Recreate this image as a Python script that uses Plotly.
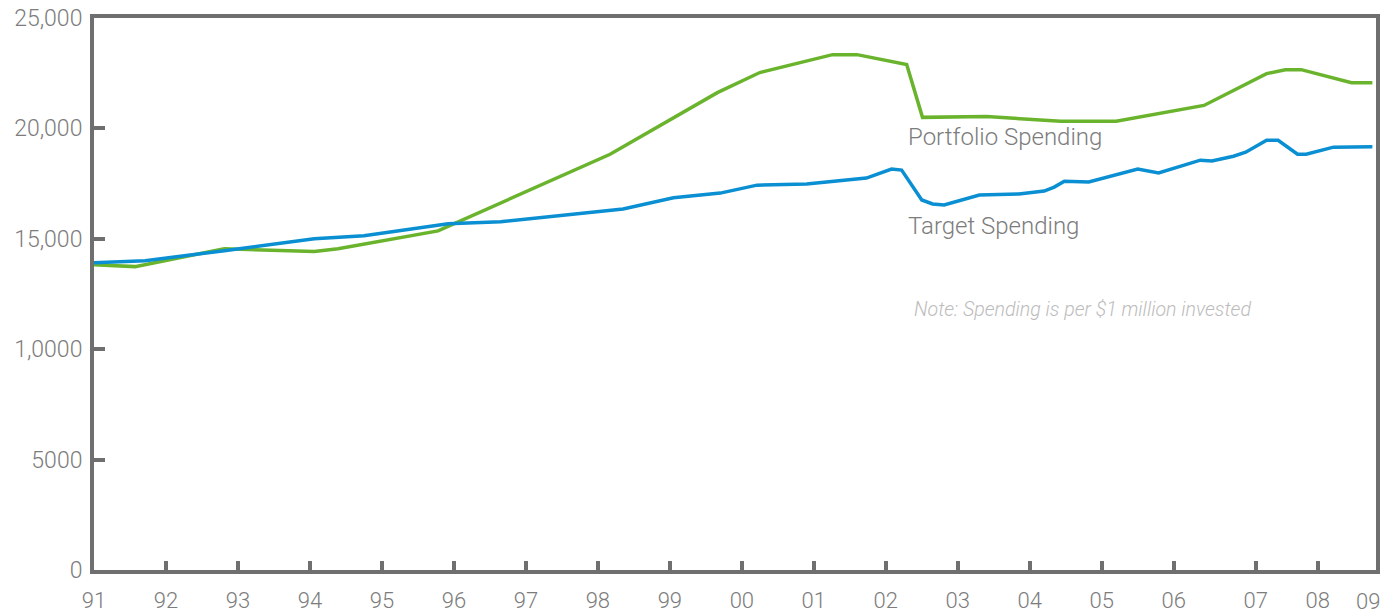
import plotly.graph_objects as go

# ---- data (decimal years, dollars per $1M invested) ----
target_x = [1991.00, 1991.71, 1992.81, 1994.06, 1994.75, 1995.92, 1996.65, 1997.62,
            1998.35, 1999.05, 1999.70, 2000.21, 2000.90, 2001.73, 2002.08, 2002.22,
            2002.33, 2002.50, 2002.65, 2002.81, 2003.30, 2003.85, 2004.20, 2004.34,
            2004.48, 2004.82, 2005.50, 2005.79, 2006.37, 2006.53, 2006.83, 2007.00,
            2007.29, 2007.45, 2007.72, 2007.84, 2008.22, 2008.76]
target_y = [13920, 14010, 14460, 15000, 15140, 15680, 15770, 16080,
            16350, 16860, 17070, 17430, 17480, 17750, 18160, 18110,
            17570, 16760, 16580, 16530, 16980, 17030, 17160, 17340,
            17610, 17570, 18160, 17980, 18560, 18520, 18740, 18920,
            19460, 19460, 18830, 18830, 19150, 19170]

portfolio_x = [1991.00, 1991.57, 1992.81, 1994.06, 1994.39, 1995.78, 1998.17, 1999.66,
               2000.25, 2001.26, 2001.60, 2002.29, 2002.51, 2003.40, 2004.43, 2005.20,
               2006.42, 2007.29, 2007.55, 2007.77, 2008.47, 2008.76]
portfolio_y = [13830, 13740, 14550, 14420, 14550, 15360, 18830, 21620,
               22530, 23340, 23340, 22890, 20500, 20540, 20320, 20320,
               21040, 22480, 22660, 22660, 22070, 22070]

y_tickvals = [0, 5000, 10000, 15000, 20000, 25000]
y_ticktext = ["0", "5000", "1,0000", "15,000", "20,000", "25,000"]

x_tickvals = [1991, 1992, 1993, 1994, 1995, 1996, 1997, 1998, 1999, 2000,
              2001, 2002, 2003, 2004, 2005, 2006, 2007.14, 2008]
x_ticktext = ["91", "92", "93", "94", "95", "96", "97", "98", "99", "00",
              "01", "02", "03", "04", "05", "06", "07", "08"]
last_label_x = 2008.70
last_label = "09"

GRAY = "#6f6f6f"
LABEL = "#7c7c7c"
FONT = "Roboto"

fig = go.Figure()
fig.add_trace(go.Scatter(x=portfolio_x, y=portfolio_y, mode="lines",
                         line=dict(color="#6ab42d", width=3.5), name="Portfolio Spending"))
fig.add_trace(go.Scatter(x=target_x, y=target_y, mode="lines",
                         line=dict(color="#0a8fd2", width=3.5), name="Target Spending"))

fig.update_layout(
    width=1400, height=615,
    margin=dict(l=94, r=24, t=18, b=45, autoexpand=False),
    paper_bgcolor="white", plot_bgcolor="white",
    showlegend=False,
    font=dict(family=FONT, color=LABEL, size=22, weight=300),
)
fig.update_xaxes(
    range=[1991, 2008.81], showgrid=False, zeroline=False, automargin=False,
    showline=True, linecolor=GRAY, linewidth=4, mirror=True,
    ticks="inside", ticklen=9, tickwidth=4, tickcolor=GRAY,
    tickvals=x_tickvals, ticktext=x_ticktext,
    tickfont=dict(family=FONT, size=22, color=LABEL, weight=300),
    ticklabelstandoff=8,
)
fig.update_yaxes(
    range=[0, 25000], showgrid=False, zeroline=False, automargin=False,
    showline=True, linecolor=GRAY, linewidth=4, mirror=True,
    ticks="inside", ticklen=11, tickwidth=4, tickcolor=GRAY,
    tickvals=y_tickvals, ticktext=y_ticktext,
    tickfont=dict(family=FONT, size=23, color=LABEL, weight=300),
    ticklabelstandoff=3,
)

fig.add_annotation(x=last_label_x, y=0, xref="x", yref="paper", yanchor="top",
                   text=last_label, showarrow=False, yshift=-17,
                   font=dict(family=FONT, size=22, color=LABEL, weight=300))
fig.add_annotation(x=2002.33, y=19630, xref="x", yref="y", xanchor="left", yanchor="middle",
                   text="Portfolio Spending", showarrow=False, xshift=-4,
                   font=dict(family=FONT, size=24, color=LABEL, weight=300))
fig.add_annotation(x=2002.33, y=15600, xref="x", yref="y", xanchor="left", yanchor="middle",
                   text="Target Spending", showarrow=False, xshift=-4,
                   font=dict(family=FONT, size=24, color=LABEL, weight=300))
fig.add_annotation(x=2002.42, y=11800, xref="x", yref="y", xanchor="left", yanchor="middle",
                   text="<i>Note: Spending is per $1 million invested</i>", showarrow=False, xshift=-4,
                   font=dict(family=FONT, size=19.6, color="#bcbcbc", weight=300))

fig.write_html("out.html", config={"displayModeBar": False},
               post_script="document.body.style.margin='0';")
